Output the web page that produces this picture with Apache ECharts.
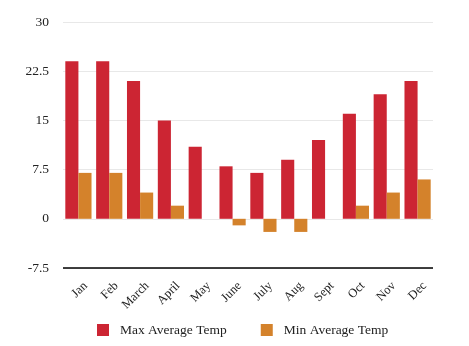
<!DOCTYPE html>
<html>
<head>
<meta charset="utf-8">
<script src="https://cdn.jsdelivr.net/npm/echarts@6/dist/echarts.min.js"></script>
<style>
  html, body { margin: 0; padding: 0; background: #fff; }
  #chart { width: 469px; height: 346px; }
</style>
</head>
<body>
<div id="chart"></div>
<script>
// Monthly temperature averages
const months = ['Jan', 'Feb', 'March', 'April', 'May', 'June', 'July', 'Aug', 'Sept', 'Oct', 'Nov', 'Dec'];
const maxTemp = [24, 24, 21, 15, 11, 8, 7, 9, 12, 16, 19, 21];
const minTemp = [7, 7, 4, 2, 0, -1, -2, -2, 0, 2, 4, 6];
const yTicks = [-7.5, 0, 7.5, 15, 22.5, 30];

const font = '"Liberation Serif", "Times New Roman", serif';
const chart = echarts.init(document.getElementById('chart'), null, { renderer: 'canvas' });

chart.setOption({
  animation: false,
  textStyle: { fontFamily: font },
  grid: { left: 63, right: 36, top: 22, bottom: 78 },
  legend: {
    left: 92,
    bottom: 4,
    itemWidth: 12,
    itemHeight: 12,
    itemGap: 34,
    icon: 'rect',
    textStyle: { fontFamily: font, fontSize: 13.5, color: '#222', padding: [0, 0, 0, 6] },
    data: ['Max Average Temp', 'Min Average Temp']
  },
  xAxis: {
    type: 'category',
    data: months,
    axisLine: { show: false },
    axisTick: { show: false },
    axisLabel: {
      rotate: 45,
      interval: 0,
      fontFamily: font,
      fontSize: 12.5,
      color: '#222',
      margin: 23,
      padding: [0, -10, 0, 0]
    }
  },
  yAxis: {
    type: 'value',
    min: yTicks[0],
    max: yTicks[yTicks.length - 1],
    interval: 7.5,
    axisLine: { show: false },
    axisTick: { show: false },
    axisLabel: {
      fontFamily: font,
      fontSize: 13.5,
      color: '#222',
      margin: 14,
      formatter: v => String(v)
    },
    splitLine: {
      lineStyle: { color: '#e8e8e8', width: 1 }
    }
  },
  series: [
    {
      name: 'Max Average Temp',
      type: 'bar',
      data: maxTemp,
      barGap: '0%',
      barCategoryGap: '15%',
      itemStyle: { color: '#CC2533' }
    },
    {
      name: 'Min Average Temp',
      type: 'bar',
      data: minTemp,
      itemStyle: { color: '#D4822B' },
      markLine: {
        silent: true,
        symbol: 'none',
        label: { show: false },
        lineStyle: { color: '#000', type: 'solid', width: 1.5 },
        data: [{ yAxis: yTicks[0] }]
      }
    }
  ]
});
</script>
</body>
</html>
